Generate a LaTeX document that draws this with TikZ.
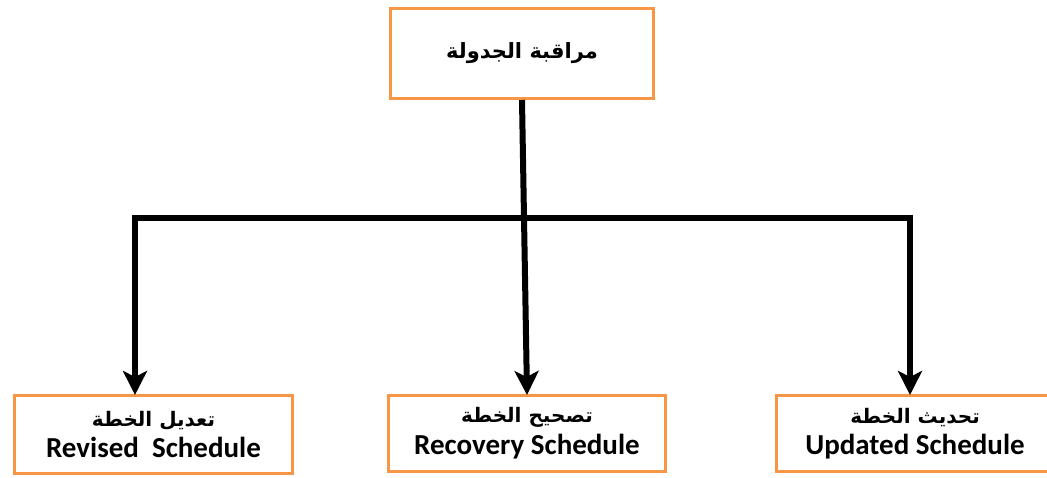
\documentclass[tikz,border=0pt]{standalone}
\usepackage{fontspec}
\setmainfont{Carlito}
\newfontfamily\arabicfont[Script=Arabic]{DejaVu Sans}
\TeXXeTstate=1
\usetikzlibrary{arrows.meta}
\definecolor{boxorange}{HTML}{F79646}
\tikzset{
  obox/.style={draw=boxorange, line width=3pt, fill=white, minimum width=#1, inner sep=0pt, align=center, anchor=north west},
  link/.style={line width=6pt, black},
  arrowlink/.style={line width=6pt, black, -{Stealth[width=24pt,length=24pt,inset=6pt]}, shorten >=-1pt}
}
\newcommand{\artext}[1]{{\arabicfont\fontsize{20}{24}\selectfont\bfseries\beginR #1\endR}}
\newcommand{\entext}[1]{{\bfseries\fontsize{29}{34}\selectfont #1}}
\begin{document}
\begin{tikzpicture}[x=1pt,y=-1pt]
\useasboundingbox (0,0) rectangle (1047,478);
\node[obox=263pt, minimum height=90pt] (top) at (389,7)
  {\arabicfont\bfseries\fontsize{21}{24}\selectfont\beginR مراقبة الجدولة\endR};
\node[obox=278pt, minimum height=78pt] (left) at (13,394)
  {\artext{تعديل الخطة}\\[6pt]\entext{Revised\ \ Schedule}};
\node[obox=277pt, minimum height=76pt] (mid) at (387,394)
  {\artext{تصحيح الخطة}\\[6pt]\entext{Recovery Schedule}};
\node[obox=277pt, minimum height=76pt] (right) at (775,394)
  {\artext{تحديث الخطة}\\[6pt]\entext{Updated Schedule}};
\coordinate (jL) at (135,218);
\coordinate (jR) at (910,218);
\draw[link, line cap=rect] (jL) -- (jR);
\draw[arrowlink] (jL) -- (jL |- left.north);
\draw[arrowlink] (jR) -- (jR |- right.north);
\draw[arrowlink] (top.south) -- (mid.north);
\end{tikzpicture}
\end{document}
